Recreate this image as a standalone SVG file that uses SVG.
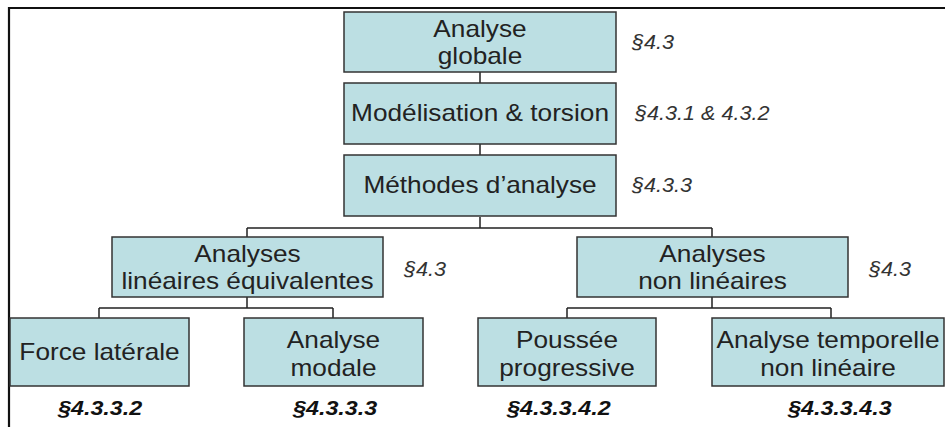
<svg xmlns="http://www.w3.org/2000/svg" width="945" height="427" viewBox="0 0 945 427">
<style>
.box{fill:#BCDFE3;stroke:#333;stroke-width:1.5}
.t{font-family:"Liberation Sans",Arial,sans-serif;font-size:23px;fill:#222;text-anchor:middle}
.s{font-family:"Liberation Sans",Arial,sans-serif;font-size:20px;font-style:italic;fill:#333}
.b{font-family:"Liberation Sans",Arial,sans-serif;font-size:21px;font-style:italic;font-weight:bold;fill:#111}
.c{fill:none;stroke:#222;stroke-width:1.5}
</style>
<rect width="945" height="427" fill="#fff"/>
<path d="M9,427 V8 H945" fill="none" stroke="#111" stroke-width="2.2"/>
<g id="connectors">
<path class="c" d="M480,72 V83 M480,144 V155 M480,217 V228 M247,228 H712 M247,228 V237 M712,228 V237"/>
<path class="c" d="M247,297 V308 M99,308 H333 M99,308 V318 M333,308 V318"/>
<path class="c" d="M712,297 V308 M567,308 H831 M567,308 V318 M831,308 V318"/>
</g>
<g id="n1"><rect class="box" x="344" y="12" width="272" height="60"/>
<g transform="translate(480,0) scale(1.14,1)"><text class="t" x="0" y="37">Analyse</text><text class="t" x="0" y="64">globale</text></g></g>
<g id="n2"><rect class="box" x="344" y="83" width="272" height="61"/>
<g transform="translate(480,0) scale(1.14,1)"><text class="t" x="0" y="121">Modélisation &amp; torsion</text></g></g>
<g id="n3"><rect class="box" x="344" y="155" width="272" height="61"/>
<g transform="translate(480,0) scale(1.14,1)"><text class="t" x="0" y="193">Méthodes d’analyse</text></g></g>
<g id="n4"><rect class="box" x="112" y="237" width="271" height="60"/>
<g transform="translate(247.5,0) scale(1.14,1)"><text class="t" x="0" y="262">Analyses</text><text class="t" x="0" y="289">linéaires équivalentes</text></g></g>
<g id="n5"><rect class="box" x="577" y="237" width="271" height="60"/>
<g transform="translate(712.5,0) scale(1.14,1)"><text class="t" x="0" y="262">Analyses</text><text class="t" x="0" y="289">non linéaires</text></g></g>
<g id="n6"><rect class="box" x="10" y="318" width="179" height="68"/>
<g transform="translate(99.5,0) scale(1.14,1)"><text class="t" x="0" y="360">Force latérale</text></g></g>
<g id="n7"><rect class="box" x="244" y="318" width="179" height="68"/>
<g transform="translate(333.5,0) scale(1.14,1)"><text class="t" x="0" y="348">Analyse</text><text class="t" x="0" y="376">modale</text></g></g>
<g id="n8"><rect class="box" x="478" y="318" width="178" height="68"/>
<g transform="translate(567,0) scale(1.14,1)"><text class="t" x="0" y="348">Poussée</text><text class="t" x="0" y="376">progressive</text></g></g>
<g id="n9"><rect class="box" x="712" y="318" width="232" height="68"/>
<g transform="translate(828,0) scale(1.14,1)"><text class="t" x="0" y="348">Analyse temporelle</text><text class="t" x="0" y="376">non linéaire</text></g></g>
<g id="labels">
<g transform="translate(632,0) scale(1.08,1)"><text class="s" x="0" y="49">§4.3</text></g>
<g transform="translate(635,0) scale(1.08,1)"><text class="s" x="0" y="120">§4.3.1 &amp; 4.3.2</text></g>
<g transform="translate(632,0) scale(1.08,1)"><text class="s" x="0" y="192">§4.3.3</text></g>
<g transform="translate(404,0) scale(1.08,1)"><text class="s" x="0" y="276">§4.3</text></g>
<g transform="translate(869,0) scale(1.08,1)"><text class="s" x="0" y="276">§4.3</text></g>
<g transform="translate(58,0) scale(1.11,1)"><text class="b" x="0" y="415">§4.3.3.2</text></g>
<g transform="translate(293,0) scale(1.11,1)"><text class="b" x="0" y="415">§4.3.3.3</text></g>
<g transform="translate(507,0) scale(1.11,1)"><text class="b" x="0" y="415">§4.3.3.4.2</text></g>
<g transform="translate(788,0) scale(1.11,1)"><text class="b" x="0" y="415">§4.3.3.4.3</text></g>
</g>
</svg>
